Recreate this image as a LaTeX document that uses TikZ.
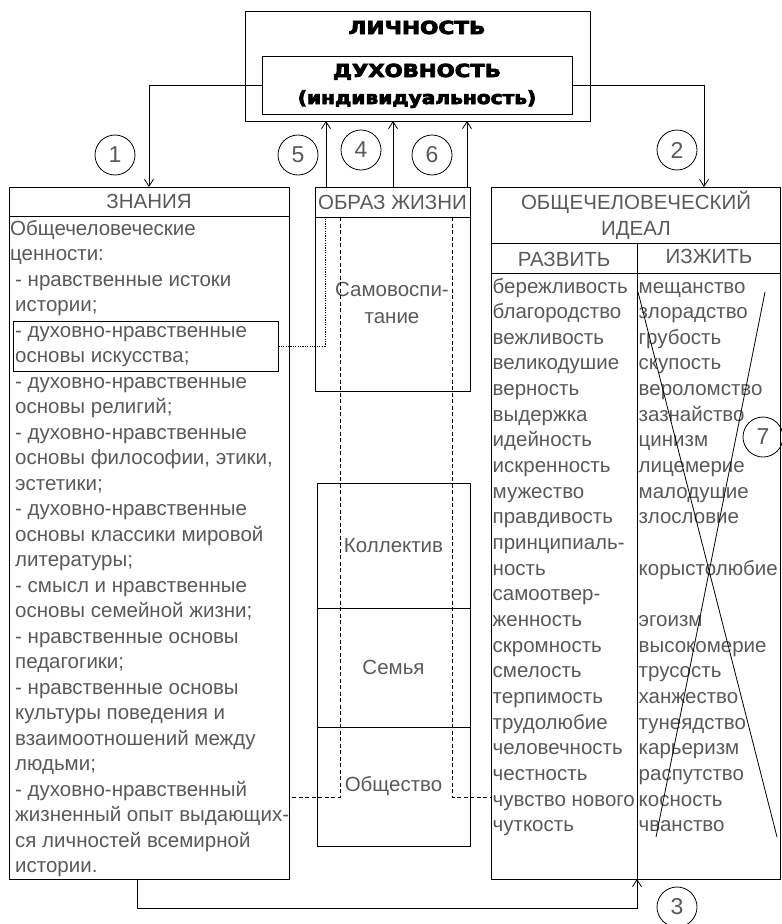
\documentclass[tikz,border=0pt]{standalone}
\usepackage{fontspec}
\setmainfont{Liberation Sans}
\newfontfamily\titlef{DejaVu Sans}[UprightFont={* Bold}, UprightFeatures={FakeBold=4}]
\usetikzlibrary{arrows.meta}
\begin{document}
\begin{tikzpicture}[x=1pt,y=-1pt,
  box/.style={draw, line width=0.9pt, inner sep=0pt, outer sep=0pt},
  conn/.style={line width=0.8pt},
  arr/.style={conn, -{Straight Barb[length=7pt,width=9pt,line width=0.8pt]}},
  num/.style={circle, draw, line width=0.8pt, minimum size=40pt, inner sep=0pt, font=\fontsize{23}{23}\selectfont, text=black!65},
  txt/.style={inner sep=0pt, font=\fontsize{20.5}{24}\selectfont, text=black!65},
  ttl/.style={inner sep=0pt, font=\titlef\fontsize{18}{20}\selectfont},
  dotl/.style={line width=0.7pt, dash pattern=on 1.2pt off 1.2pt},
  dashl/.style={line width=0.8pt, dash pattern=on 4pt off 2.5pt}]
\useasboundingbox (0,0) rectangle (782,924);

% top boxes
\node[box, minimum width=345pt, minimum height=110pt] (lich) at (417.5,66) {};
\node[box, minimum width=310pt, minimum height=58pt] (duh) at (417,85) {};
\node[ttl, anchor=base] (tlich) at (417,34) {\scalebox{1.2}[1]{ЛИЧНОСТЬ}};
\node[ttl, anchor=base] (tduh) at (417,77) {\scalebox{1.18}[1]{ДУХОВНОСТЬ}};
\node[ttl, anchor=base] (tind) at (417,104) {\scalebox{1.12}[1]{(индивидуальность)}};

% ZNANIYA box
\node[box, minimum width=280pt, minimum height=692pt] (zn) at (149,533) {};
\draw[line width=0.9pt] (zn.west |- 0,216) -- (zn.east |- 0,216);
\node[txt, anchor=base] (tzn) at (149,208) {ЗНАНИЯ};
\foreach \t [count=\i] in {Общечеловеческие, ценности:, - нравственные истоки, истории;,
  - духовно-нравственные, основы искусства;, - духовно-нравственные, основы религий;,
  - духовно-нравственные, {основы философии, этики,}, эстетики;, - духовно-нравственные,
  основы классики мировой, литературы;, - смысл и нравственные, основы семейной жизни;,
  - нравственные основы, педагогики;, - нравственные основы, культуры поведения и,
  взаимоотношений между, людьми;, - духовно-нравственный, жизненный опыт выдающих-,
  ся личностей всемирной, истории.}{
  \pgfmathsetmacro{\xx}{ifthenelse(\i<3,10,15)}
  \node[txt, anchor=base west] (k\i) at (\xx, 235+25.5*\i-25.5) {\t};
}
\node[draw, line width=0.9pt, inner sep=0pt, minimum width=265pt, minimum height=50pt] (hl) at (145.5,346) {};

% OBRAZ ZHIZNI box
\node[box, minimum width=155pt, minimum height=204pt] (obraz) at (392.5,289) {};
\draw[line width=0.9pt] (obraz.west |- 0,217) -- (obraz.east |- 0,217);
\node[txt, anchor=base] (tob) at (392.5,209) {ОБРАЗ ЖИЗНИ};
\node[txt, anchor=base] (ts1) at (392,296) {Самовоспи-};
\node[txt, anchor=base] (ts2) at (392,323) {тание};

% lower stack
\node[box, minimum width=153pt, minimum height=125pt, txt] (koll) at (393.5,545.5) {Коллектив};
\node[box, minimum width=153pt, minimum height=119pt, txt] (sem) at (393.5,667.5) {Семья};
\node[box, minimum width=153pt, minimum height=119pt, txt] (obsh) at (393.5,786.5) {Общество};

% IDEAL box
\node[box, minimum width=289.5pt, minimum height=692pt] (ideal) at (635.75,533) {};
\draw[line width=0.9pt] (ideal.west |- 0,243) -- (ideal.east |- 0,243);
\draw[line width=0.9pt] (ideal.west |- 0,273) -- (ideal.east |- 0,273);
\coordinate (dv) at (637,0);
\draw[line width=0.9pt] (dv |- 0,243) -- (dv |- ideal.south);
\node[txt, anchor=base] (tid1) at (636,209) {ОБЩЕЧЕЛОВЕЧЕСКИЙ};
\node[txt, anchor=base] (tid2) at (636,235) {ИДЕАЛ};
\node[txt, anchor=base] (traz) at (564,266) {РАЗВИТЬ};
\node[txt, anchor=base] (tizh) at (709,263) {ИЗЖИТЬ};
\foreach \t [count=\i] in {бережливость, благородство, вежливость, великодушие, верность,
  выдержка, идейность, искренность, мужество, правдивость, принципиаль-, ность, самоотвер-,
  женность, скромность, смелость, терпимость, трудолюбие, человечность, честность,
  чувство нового, чуткость}{
  \node[txt, anchor=base west] (r\i) at (492.5, 293+25.65*\i-25.65) {\t};
}
\foreach \t [count=\i] in {мещанство, злорадство, грубость, скупость, вероломство,
  зазнайство, цинизм, лицемерие, малодушие, злословие, {}, корыстолюбие, {}, эгоизм,
  высокомерие, трусость, ханжество, тунеядство, карьеризм, распутство, косность, чванство}{
  \node[txt, anchor=base west] (s\i) at (638.5, 293+25.65*\i-25.65) {\t};
}
\coordinate (xa1) at (638,292); \coordinate (xa2) at (777,837);
\coordinate (xb1) at (765,292); \coordinate (xb2) at (656,837);
\draw[conn] (xa1) -- (xa2);
\draw[conn] (xb1) -- (xb2);

% connectors
\coordinate (a2) at (704,0);
\draw[arr] (duh.west) -| (zn.north);
\draw[arr] (duh.east) -| (a2 |- ideal.north);
\coordinate (p5) at (326,0);
\coordinate (p4) at (393,0);
\coordinate (p6) at (467,0);
\draw[arr] (p5 |- obraz.north) -- (p5 |- lich.south);
\draw[arr] (p4 |- obraz.north) -- (p4 |- lich.south);
\draw[arr] (p6 |- obraz.north) -- (p6 |- lich.south);
\coordinate (a3) at (137,908);
\draw[arr] (a3 |- zn.south) -- (a3) -| (dv |- ideal.south);

% dotted and dashed links
\coordinate (d1) at (325,217);
\draw[dotl] (hl.east) -| (d1);
\coordinate (dl) at (340,217);
\coordinate (dr) at (452,217);
\coordinate (yd) at (0,797);
\draw[dashl] (dl) |- (yd -| zn.east);
\draw[dashl] (dr) |- (yd -| ideal.west);

% numbers
\node[num] (c1) at (115,155) {1};
\node[num] (c2) at (677,150) {2};
\node[num] (c3) at (677,907) {3};
\node[num] (c4) at (361,150) {4};
\node[num] (c5) at (298,155) {5};
\node[num] (c6) at (432,155) {6};
\node[num] (c7) at (763,437) {7};
\end{tikzpicture}
\end{document}
